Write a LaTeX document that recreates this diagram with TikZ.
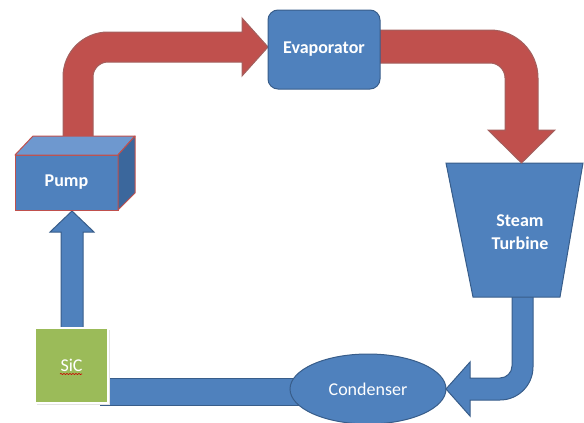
\documentclass[tikz,border=0pt]{standalone}
\usepackage{fontspec}
\setmainfont{Carlito}
\usetikzlibrary{shapes.geometric,decorations.pathmorphing}
\definecolor{fillblue}{HTML}{4F81BD}
\definecolor{edgeblue}{HTML}{385D8A}
\definecolor{fillred}{HTML}{C0504D}
\definecolor{edgered}{HTML}{8C3836}
\definecolor{sicgreen}{HTML}{9BBB59}
\definecolor{toplight}{HTML}{6E98CF}
\definecolor{sidedark}{HTML}{3B679C}
\tikzset{
  bluearrow/.style={fill=fillblue,draw=edgeblue,line width=1pt,line join=miter},
  redarrow/.style={fill=fillred,draw=edgered!80,line width=1pt,line join=miter},
  lbl/.style={text=white,font=\fontsize{18}{23}\selectfont},
  blbl/.style={text=white,font=\fontsize{18}{23}\selectfont\bfseries},
}
\begin{document}
\begin{tikzpicture}[x=1pt,y=-1pt]
\useasboundingbox (0,0) rectangle (584,423);
% bar SiC -> condenser
\draw[bluearrow] (100,378) rectangle (300,405);
% arrow SiC -> pump
\draw[bluearrow] (61,332) -- (61,232) -- (50,232) -- (72,211) -- (94,232) -- (83,232) -- (83,332) -- cycle;
% SiC
\fill[gray!22] (36.5,329.5) rectangle (110,405);
\node[rectangle,fill=sicgreen,draw=white,line width=2.5pt,minimum width=73pt,minimum height=75pt,lbl] (sic) at (71.5,365.5) {SiC};
\draw[red!80!black,line width=0.6pt,decorate,decoration={snake,amplitude=0.6pt,segment length=3pt}] (60,374) -- (82,374);
% condenser
\node[ellipse,fill=fillblue,draw=edgeblue,line width=1pt,minimum width=156pt,minimum height=70pt,lbl,inner sep=0pt] (cond) at (368,389) {Condenser};
% arrow turbine -> condenser
\draw[bluearrow] (512,294) -- (533,294) -- (533,367) .. controls (533,385.2) and (518.2,400) .. (500,400) -- (470,400) -- (470,416) -- (446,389) -- (470,362) -- (470,378) -- (500,378) .. controls (506.6,378) and (512,372.6) .. (512,366) -- cycle;
% turbine
\draw[fill=fillblue,draw=edgeblue,line width=1pt] (446,163) -- (583,163) -- (560,297) -- (473,297) -- cycle;
\node[blbl,align=center] (turb) at (520,232) {Steam\\Turbine};
% red arrow pump -> evaporator
\draw[redarrow] (63,139) -- (63,77) .. controls (63,52.1) and (83.1,32) .. (108,32) -- (242,32) -- (242,18) -- (268,47) -- (242,76) -- (242,62) -- (108,62) .. controls (99.7,62) and (93,68.7) .. (93,77) -- (93,139) -- cycle;
% pump box
\draw[fill=fillblue,draw=fillred,line width=1pt] (15,155) rectangle (118,210);
\draw[fill=toplight,draw=fillred,line width=1pt,line join=round] (15,155) -- (33,136) -- (135,136) -- (118,155) -- cycle;
\draw[fill=sidedark,draw=fillred,line width=1pt,line join=round] (118,155) -- (135,136) -- (135,193) -- (118,210) -- cycle;
\node[blbl] (pump) at (66.5,182.5) {Pump};
% red arrow evaporator -> turbine
\draw[redarrow] (378,30) -- (490,30) .. controls (516.5,30) and (538,51.5) .. (538,78) -- (538,130) -- (555,130) -- (521.5,163) -- (488,130) -- (505,130) -- (505,78) .. controls (505,69.7) and (498.3,63) .. (490,63) -- (378,63) -- cycle;
% evaporator
\node[rectangle,rounded corners=10pt,fill=fillblue,draw=edgeblue,line width=1pt,minimum width=112pt,minimum height=79pt,blbl] (evap) at (324,49.5) {Evaporator};
\end{tikzpicture}
\end{document}
